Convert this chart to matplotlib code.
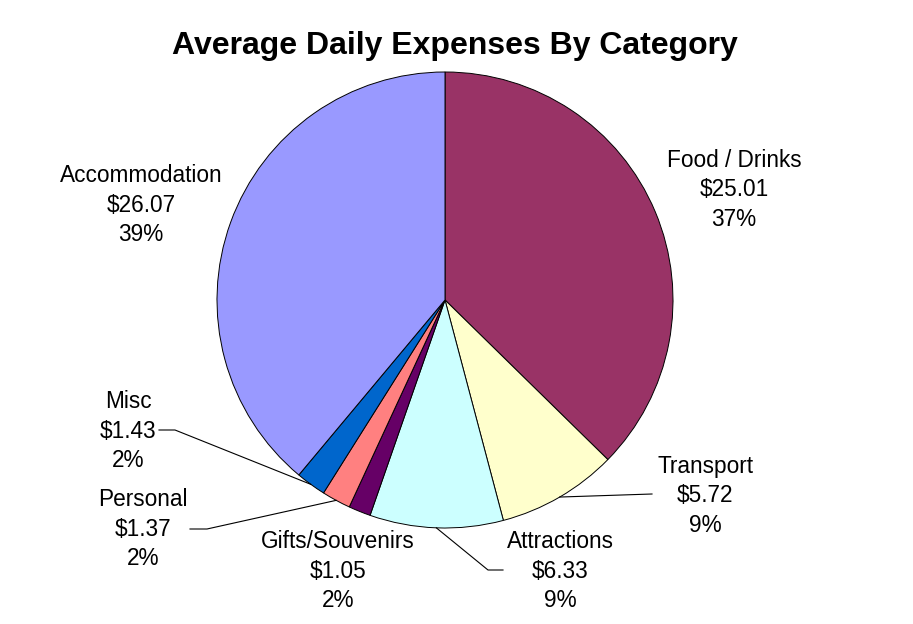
import numpy as np
import matplotlib
matplotlib.use("Agg")
import matplotlib.pyplot as plt

plt.rcParams['font.family'] = ['Liberation Sans', 'DejaVu Sans']

categories = ["Food / Drinks", "Transport", "Attractions", "Gifts/Souvenirs",
              "Personal", "Misc", "Accommodation"]
values = [25.01, 5.72, 6.33, 1.05, 1.37, 1.43, 26.07]
colors = ["#993366", "#FFFFCC", "#CCFFFF", "#660066", "#FF8080", "#0066CC", "#9999FF"]

W, H = 913, 624
# label centres in pixel coords (x, y from top)
label_pos = {
    "Food / Drinks": (734, 190),
    "Transport": (705, 496),
    "Attractions": (560, 571),
    "Gifts/Souvenirs": (338, 571),
    "Personal": (143, 529),
    "Misc": (128, 431),
    "Accommodation": (141, 205),
}
# leader line elbows (pixel coords): [elbow, end at text]
leaders = {
    "Transport": [(652, 494)],
    "Attractions": [(488, 570), (503, 570)],
    "Personal": [(207, 529), (190, 529)],
    "Misc": [(175, 430), (159, 430)],
}

fig = plt.figure(figsize=(W / 100, H / 100), dpi=100)
ax = fig.add_axes([0, 0, 1, 1])

cx, cy, r = 445, 300, 228
wedges, _ = ax.pie(values, startangle=90, counterclock=False, colors=colors,
                   center=(cx, H - cy), radius=r,
                   wedgeprops=dict(edgecolor="black", linewidth=0.7))
ax.set_xlim(0, W)
ax.set_ylim(0, H)
ax.axis("off")

total = sum(values)
for w, name, v in zip(wedges, categories, values):
    pct = round(v / total * 100)
    lx, ly = label_pos[name]
    ax.text(lx, H - ly, f"{name}\n${v:.2f}\n{pct}%", ha="center", va="center",
            fontsize=16.3, linespacing=1.38)
    if name in leaders:
        mid = np.deg2rad((w.theta1 + w.theta2) / 2)
        px = cx + r * np.cos(mid)
        py = (H - cy) + r * np.sin(mid)
        pts = [(px, py)] + [(x, H - y) for x, y in leaders[name]]
        xs, ys = zip(*pts)
        ax.plot(xs, ys, color="black", linewidth=0.8)

fig.text(455 / W, 1 - 46 / H, "Average Daily Expenses By Category",
         ha="center", va="center", fontsize=23, fontweight="bold")

fig.savefig("out.png", dpi=100, facecolor="white")
